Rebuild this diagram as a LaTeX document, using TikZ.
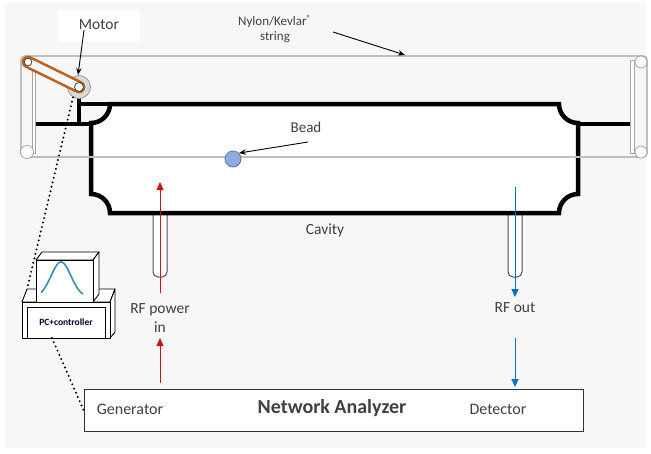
\documentclass[tikz,border=0pt]{standalone}
\usepackage{fontspec}
\setmainfont{Carlito}
\usetikzlibrary{arrows.meta}
\definecolor{bg}{HTML}{F7F7F7}
\definecolor{txt}{HTML}{404040}
\definecolor{rail}{HTML}{BFBFBF}
\definecolor{beltc}{HTML}{C0601E}
\definecolor{rfred}{HTML}{D0101A}
\definecolor{rfblue}{HTML}{0070C0}
\definecolor{beadblue}{HTML}{8FAADC}
\definecolor{beadline}{HTML}{5A7BA8}
\definecolor{curvec}{HTML}{3A8FB0}
\begin{document}
\begin{tikzpicture}[x=1pt,y=-1pt,
  lbl/.style={text=txt, inner sep=0pt, font=\fontsize{15.5}{19}\selectfont, align=center},
  wall/.style={line width=4.5pt, draw=black, line cap=rect},
  stringline/.style={draw=rail, line width=1.8pt},
  pulley/.style={draw=gray!70, fill=white, line width=0.8pt},
  coupler/.style={draw=gray!60!black, fill=white, line width=1pt, rounded corners=5pt},
  pointer/.style={-{Stealth[length=7pt,width=5.5pt]}, line width=0.9pt, black},
  rfinarrow/.style={-{Triangle[length=8pt,width=7pt]}, line width=1pt, rfred},
  rfoutarrow/.style={-{Triangle[length=8pt,width=7pt]}, line width=1pt, rfblue},
  dots/.style={line width=2.2pt, dash pattern=on 0pt off 4.6pt, line cap=round},
  pcbox/.style={draw=black, fill=white, line width=0.9pt, line join=round},
]
\useasboundingbox (0,0) rectangle (651,453);
\fill[white] (0,0) rectangle (651,453);
\fill[bg] (5,3) rectangle (646,448);

% label boxes
\fill[white] (58,10) rectangle (140,42);
\node[lbl] (motorlbl) at (99,25) {Motor};
\node[lbl, font=\fontsize{13}{15}\selectfont] (nylonlbl) at (275,29) {Nylon/Kevlar\textsuperscript{\textregistered}\\string};

% RF couplers below the cavity
\draw[coupler] (153,200) rectangle (167,277);
\draw[coupler] (508,200) rectangle (522,277);

% cavity body with scalloped corners
\draw[wall, fill=white] (110,104) -- (559,104) arc[start angle=180, end angle=90, radius=19]
  -- (578,194) arc[start angle=270, end angle=180, radius=19]
  -- (110,213) arc[start angle=0, end angle=-90, radius=19]
  -- (91,123) arc[start angle=90, end angle=0, radius=19] -- cycle;
% beam pipes and motor support
\draw[wall] (79,97) -- (79,124);
\draw[wall] (79,104) -- (110,104);
\draw[wall] (35,124) -- (91,124);
\draw[wall] (578,124) -- (631,124);

% string loop
\draw[stringline, rounded corners=4pt] (21,56) rectangle (647,157);

% pulley bars and wheels
\draw[pulley] (32,60) rectangle (35,153);
\draw[pulley] (630,60) rectangle (634,153);
\draw[pulley] (28,62) circle[radius=5];
\draw[pulley] (27,152) circle[radius=6.5];
\draw[pulley] (641,62) circle[radius=6];
\draw[pulley] (641,152) circle[radius=6];

% motor with belt
\node[circle, draw=gray!80, fill=gray!30, line width=0.8pt, minimum size=23pt, inner sep=0pt] (motor) at (79,87) {};
\draw[beltc, line width=2.6pt, double=bg, double distance=7.5pt, line cap=round] (28,62) -- (79,87);
\draw[fill=white, draw=txt, line width=0.8pt] (28,62) circle[radius=3.8];
\draw[fill=white, draw=txt, line width=0.8pt] (79,87) circle[radius=4.5];
\coordinate (motortop) at (78,75);
\draw[pointer] (motorlbl.south -| 84,0) -- (motortop);

% nylon string pointer
\coordinate (strpt) at (405,55);
\draw[pointer] (333,32) -- (strpt);

% bead
\node[circle, draw=beadline, fill=beadblue, line width=0.8pt, minimum size=16pt, inner sep=0pt] (bead) at (233,159) {};
\node[lbl, font=\fontsize{15}{18}\selectfont] (beadlbl) at (306,127) {Bead};
\draw[pointer] (308,142) -- (bead.north east);

\node[lbl] (cavitylbl) at (325,230) {Cavity};

% RF in / out
\node[lbl] (rfinlbl) at (160,318) {RF power\\in};
\node[lbl] (rfoutlbl) at (515,308) {RF out};
\coordinate (rfintip) at (160,182);
\coordinate (rfinfoot) at (160,293);
\coordinate (rfinsrc) at (160,383);
\coordinate (rfinhead) at (160,338);
\draw[rfinarrow] (rfinfoot) -- (rfintip);
\draw[rfinarrow] (rfinsrc) -- (rfinhead);
\coordinate (rfouttop) at (515,187);
\coordinate (rfoutend) at (515,297);
\coordinate (rfoutsrc) at (515,338);
\coordinate (rfoutdet) at (515,387);
\draw[rfoutarrow] (rfouttop) -- (rfoutend);
\draw[rfoutarrow] (rfoutsrc) -- (rfoutdet);

% network analyzer
\node[draw=black!80, fill=white, line width=1pt, minimum width=499pt, minimum height=42pt, inner sep=0pt] (na) at (333.5,410) {};
\node[lbl, font=\fontsize{16}{19}\selectfont] (gen) at (130,409) {Generator};
\node[lbl, font=\fontsize{20}{24}\selectfont\bfseries] (natitle) at (332,408) {Network Analyzer};
\node[lbl, font=\fontsize{16}{19}\selectfont] (det) at (498,409) {Detector};

% PC + controller
\draw[pcbox] (22,302) -- (27,289) -- (115,289) -- (110,302) -- cycle;
\draw[pcbox] (110,302) -- (115,289) -- (115,332) -- (110,338) -- cycle;
\draw[pcbox] (22,302) rectangle (110,338);
\draw[pcbox] (27,307) rectangle (105,338);
\node[inner sep=0pt, text=black!85!blue, font=\fontsize{9.5}{11}\selectfont\bfseries] (pclbl) at (66,322) {PC+controller};
\draw[pcbox] (36,260) -- (42,252) -- (99,252) -- (93,260) -- cycle;
\draw[pcbox] (93,260) -- (99,252) -- (99,294) -- (93,302) -- cycle;
\draw[pcbox] (36,260) rectangle (93,302);
\draw[curvec, line width=1.6pt] plot[domain=41:83, samples=50, smooth] (\x, {297 - 35*exp(-((\x-61)/14)^2)});
\coordinate (pctop) at (27,289);
\coordinate (pcbottom) at (52,338);

% control cables
\draw[dots] (motor.240) -- (pctop);
\draw[dots] (pcbottom) -- (na.west);
\end{tikzpicture}
\end{document}
